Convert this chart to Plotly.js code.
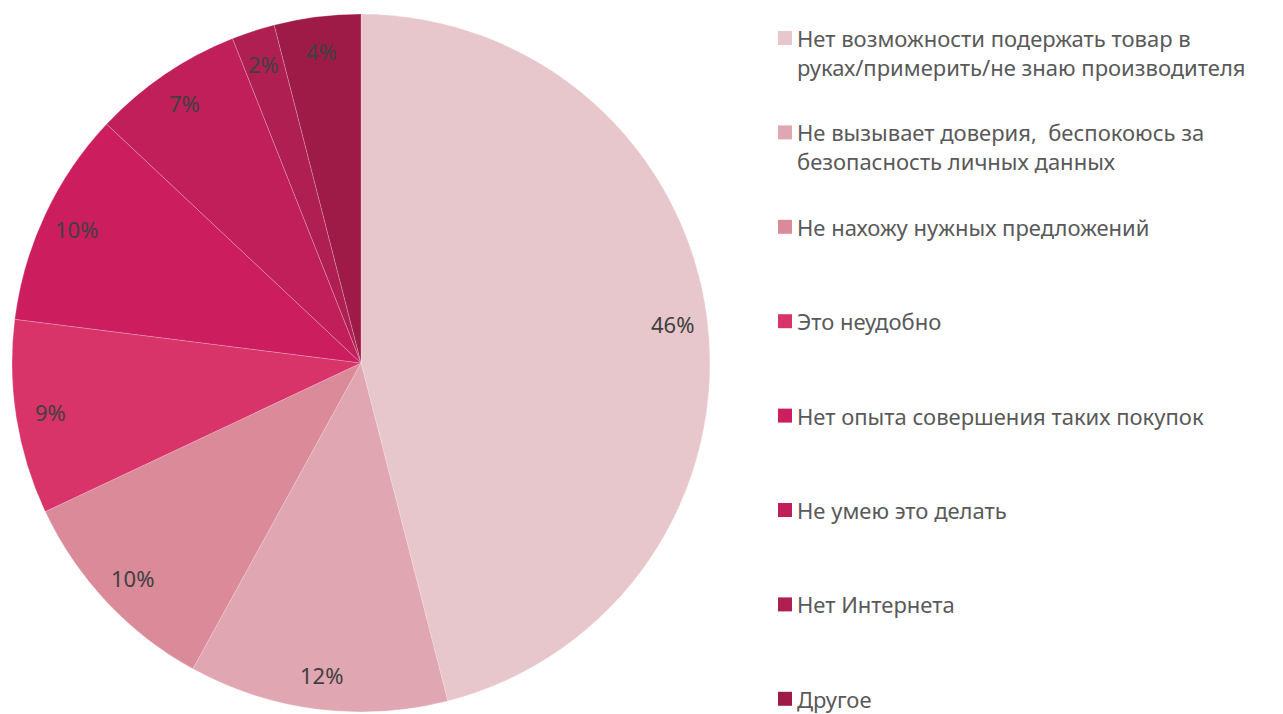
<!DOCTYPE html>
<html>
<head>
<meta charset="utf-8">
<script src="https://cdn.plot.ly/plotly-3.0.1.min.js"></script>
<style>html,body{margin:0;padding:0;background:#fff;}#chart{width:1283px;height:714px;}</style>
</head>
<body>
<div id="chart"></div>
<script>
const categories = [
  'Нет возможности подержать товар в руках/примерить/не знаю производителя',
  'Не вызывает доверия, беспокоюсь за безопасность личных данных',
  'Не нахожу нужных предложений',
  'Это неудобно',
  'Нет опыта совершения таких покупок',
  'Не умею это делать',
  'Нет Интернета',
  'Другое'
];
const legendLabels = [
  'Нет возможности подержать товар в<br>руках/примерить/не знаю производителя',
  'Не вызывает доверия,  беспокоюсь за<br>безопасность личных данных',
  'Не нахожу нужных предложений',
  'Это неудобно',
  'Нет опыта совершения таких покупок',
  'Не умею это делать',
  'Нет Интернета',
  'Другое'
];
const values = [46, 12, 10, 9, 10, 7, 2, 4];
const colors = ['#e8c7cc', '#e0a6b1', '#db8a9a', '#d8346a', '#cc1d5f', '#c01f5a', '#b01f51', '#9f1b47'];

const W = 1283, H = 714;
const cx = 361, cy = 363, R = 349;

const data = [{
  type: 'pie',
  values: values,
  labels: categories,
  marker: {colors: colors, line: {color: 'rgba(255,255,255,0.35)', width: 0.6}},
  sort: false,
  direction: 'clockwise',
  rotation: 0,
  textinfo: 'none',
  hoverinfo: 'label+percent',
  showlegend: false,
  domain: {x: [(cx - R) / W, (cx + R) / W], y: [1 - (cy + R) / H, 1 - (cy - R) / H]}
}];

const annotations = [];
const shapes = [];
const total = values.reduce((a, b) => a + b, 0);
let cum = 0;
const rLab = 0.9 * R;
values.forEach((v, i) => {
  const mid = (cum + v / 2) / total;
  cum += v;
  const th = mid * 2 * Math.PI;
  const px = cx + rLab * Math.sin(th);
  const py = cy - rLab * Math.cos(th);
  annotations.push({
    xref: 'paper', yref: 'paper', x: px / W, y: 1 - py / H,
    text: Math.round(v / total * 100) + '%', showarrow: false,
    xanchor: 'center', yanchor: 'middle',
    font: {family: '"Liberation Sans Narrow", "Noto Sans", sans-serif', size: 22, color: '#404040'}
  });
});

const legTop = 37, legStep = 94.4;
legendLabels.forEach((t, i) => {
  const yc = legTop + i * legStep;
  shapes.push({
    type: 'rect', xref: 'paper', yref: 'paper',
    x0: 778 / W, x1: 792 / W, y0: 1 - (yc - 6) / H, y1: 1 - (yc + 8) / H,
    fillcolor: colors[i], line: {width: 0}
  });
  annotations.push({
    xref: 'paper', yref: 'paper', x: 796 / W, y: 1 - (yc - 15) / H,
    text: t, showarrow: false, xanchor: 'left', yanchor: 'top', align: 'left',
    borderpad: 0,
    font: {family: '"Noto Sans", sans-serif', size: 22, color: '#595959'}
  });
});

const layout = {
  width: W, height: H,
  margin: {l: 0, r: 0, t: 0, b: 0},
  paper_bgcolor: '#ffffff',
  showlegend: false,
  annotations: annotations,
  shapes: shapes
};

Plotly.newPlot('chart', data, layout, {displayModeBar: false, staticPlot: true});
</script>
</body>
</html>
